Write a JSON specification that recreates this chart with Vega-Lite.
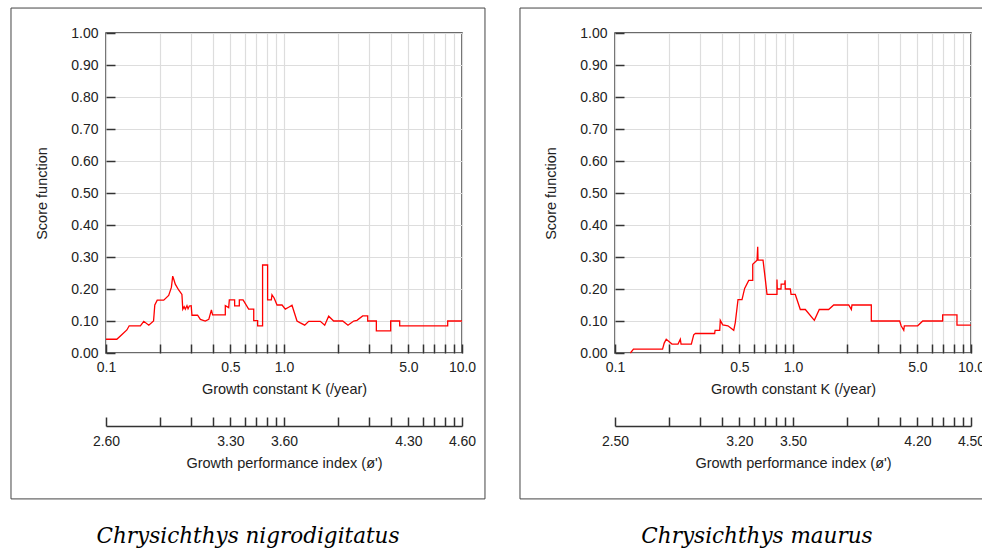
{
  "$schema": "https://vega.github.io/schema/vega-lite/v6.json",
  "background": "white",
  "padding": {"left": 9, "top": 6, "right": 0, "bottom": 0},
  "autosize": {"type": "pad"},
  "datasets": {
    "nig": [
      {"k": 0.1, "s": 0.043}, {"k": 0.115, "s": 0.043}, {"k": 0.123, "s": 0.058}, {"k": 0.131, "s": 0.072},
      {"k": 0.135, "s": 0.085}, {"k": 0.156, "s": 0.085}, {"k": 0.163, "s": 0.099}, {"k": 0.174, "s": 0.087},
      {"k": 0.185, "s": 0.1}, {"k": 0.188, "s": 0.15}, {"k": 0.194, "s": 0.165}, {"k": 0.211, "s": 0.165},
      {"k": 0.225, "s": 0.18}, {"k": 0.233, "s": 0.205}, {"k": 0.237, "s": 0.24}, {"k": 0.241, "s": 0.228},
      {"k": 0.245, "s": 0.215}, {"k": 0.256, "s": 0.197}, {"k": 0.267, "s": 0.183}, {"k": 0.27, "s": 0.137},
      {"k": 0.275, "s": 0.145}, {"k": 0.279, "s": 0.137}, {"k": 0.285, "s": 0.148}, {"k": 0.289, "s": 0.138},
      {"k": 0.294, "s": 0.147}, {"k": 0.301, "s": 0.148}, {"k": 0.304, "s": 0.118}, {"k": 0.327, "s": 0.118},
      {"k": 0.339, "s": 0.105}, {"k": 0.361, "s": 0.1}, {"k": 0.378, "s": 0.105}, {"k": 0.391, "s": 0.135},
      {"k": 0.397, "s": 0.119}, {"k": 0.468, "s": 0.119}, {"k": 0.468, "s": 0.148}, {"k": 0.489, "s": 0.142},
      {"k": 0.493, "s": 0.166}, {"k": 0.528, "s": 0.166}, {"k": 0.528, "s": 0.147}, {"k": 0.561, "s": 0.147},
      {"k": 0.561, "s": 0.166}, {"k": 0.589, "s": 0.166}, {"k": 0.633, "s": 0.137}, {"k": 0.676, "s": 0.137},
      {"k": 0.676, "s": 0.101}, {"k": 0.711, "s": 0.101}, {"k": 0.711, "s": 0.085}, {"k": 0.758, "s": 0.085},
      {"k": 0.758, "s": 0.275}, {"k": 0.809, "s": 0.275}, {"k": 0.809, "s": 0.166}, {"k": 0.849, "s": 0.166},
      {"k": 0.856, "s": 0.182}, {"k": 0.88, "s": 0.172}, {"k": 0.914, "s": 0.15}, {"k": 0.975, "s": 0.15},
      {"k": 1.017, "s": 0.137}, {"k": 1.062, "s": 0.143}, {"k": 1.109, "s": 0.149}, {"k": 1.183, "s": 0.1},
      {"k": 1.235, "s": 0.094}, {"k": 1.307, "s": 0.087}, {"k": 1.376, "s": 0.099}, {"k": 1.6, "s": 0.099},
      {"k": 1.693, "s": 0.087}, {"k": 1.782, "s": 0.115}, {"k": 1.901, "s": 0.1}, {"k": 2.137, "s": 0.1},
      {"k": 2.288, "s": 0.087}, {"k": 2.463, "s": 0.1}, {"k": 2.571, "s": 0.102}, {"k": 2.767, "s": 0.116},
      {"k": 2.953, "s": 0.116}, {"k": 2.953, "s": 0.1}, {"k": 3.302, "s": 0.1}, {"k": 3.302, "s": 0.069},
      {"k": 3.975, "s": 0.069}, {"k": 3.975, "s": 0.1}, {"k": 4.466, "s": 0.1}, {"k": 4.466, "s": 0.085},
      {"k": 8.31, "s": 0.085}, {"k": 8.31, "s": 0.1}, {"k": 10, "s": 0.1}
    ],
    "mau": [
      {"k": 0.122, "s": 0.0}, {"k": 0.127, "s": 0.012}, {"k": 0.185, "s": 0.012}, {"k": 0.189, "s": 0.031},
      {"k": 0.194, "s": 0.043}, {"k": 0.209, "s": 0.028}, {"k": 0.226, "s": 0.028}, {"k": 0.2328, "s": 0.043},
      {"k": 0.235, "s": 0.028}, {"k": 0.2685, "s": 0.028}, {"k": 0.2768, "s": 0.057}, {"k": 0.283, "s": 0.061},
      {"k": 0.363, "s": 0.061}, {"k": 0.365, "s": 0.071}, {"k": 0.3875, "s": 0.071}, {"k": 0.3905, "s": 0.102},
      {"k": 0.403, "s": 0.088}, {"k": 0.431, "s": 0.085}, {"k": 0.4645, "s": 0.071}, {"k": 0.474, "s": 0.095},
      {"k": 0.491, "s": 0.167}, {"k": 0.517, "s": 0.167}, {"k": 0.535, "s": 0.202}, {"k": 0.564, "s": 0.227},
      {"k": 0.594, "s": 0.227}, {"k": 0.594, "s": 0.277}, {"k": 0.628, "s": 0.29}, {"k": 0.6335, "s": 0.332},
      {"k": 0.636, "s": 0.29}, {"k": 0.6786, "s": 0.29}, {"k": 0.699, "s": 0.23}, {"k": 0.7145, "s": 0.183},
      {"k": 0.8128, "s": 0.183}, {"k": 0.8128, "s": 0.23}, {"k": 0.816, "s": 0.2}, {"k": 0.8562, "s": 0.2},
      {"k": 0.858, "s": 0.215}, {"k": 0.898, "s": 0.215}, {"k": 0.903, "s": 0.227}, {"k": 0.905, "s": 0.2},
      {"k": 0.966, "s": 0.2}, {"k": 0.975, "s": 0.183}, {"k": 1.03, "s": 0.183}, {"k": 1.099, "s": 0.136},
      {"k": 1.173, "s": 0.136}, {"k": 1.318, "s": 0.102}, {"k": 1.405, "s": 0.136}, {"k": 1.586, "s": 0.136},
      {"k": 1.693, "s": 0.15}, {"k": 2.056, "s": 0.15}, {"k": 2.127, "s": 0.136}, {"k": 2.144, "s": 0.15},
      {"k": 2.754, "s": 0.15}, {"k": 2.754, "s": 0.1}, {"k": 3.975, "s": 0.1}, {"k": 4.05, "s": 0.085},
      {"k": 4.19, "s": 0.071}, {"k": 4.22, "s": 0.085}, {"k": 5.017, "s": 0.085}, {"k": 5.355, "s": 0.1},
      {"k": 6.93, "s": 0.1}, {"k": 6.93, "s": 0.119}, {"k": 8.34, "s": 0.119}, {"k": 8.34, "s": 0.087},
      {"k": 10, "s": 0.087}
    ]
  },
  "spacing": 153,
  "bounds": "flush",
  "resolve": {"scale": {"x": "independent", "y": "independent"}},
  "hconcat": [
    {
      "width": 356,
      "height": 320,
      "title": {"text": "Chrysichthys nigrodigitatus", "orient": "bottom", "anchor": "middle", "frame": "bounds", "font": "DejaVu Serif", "fontStyle": "italic", "fontWeight": "normal", "fontSize": 21.5, "color": "#000000", "offset": 27, "baseline": "top"},
      "layer": [
        {
          "data": {"values": [{}]},
          "mark": {"type": "rect", "fill": null, "fillOpacity": 0, "stroke": "#444444", "strokeWidth": 1, "clip": false},
          "encoding": {
            "x": {"datum": 0.02926, "type": "quantitative", "scale": {"type": "log", "domain": [0.1, 10]}, "axis": null},
            "x2": {"datum": 13.46},
            "y": {"datum": -0.456, "type": "quantitative", "scale": {"domain": [0, 1]}, "axis": null},
            "y2": {"datum": 1.078}
          }
        },
        {
          "data": {"name": "nig"},
          "mark": {"type": "line", "color": "#ff0000", "strokeWidth": 1.3},
          "encoding": {
            "x": {"field": "k", "type": "quantitative", "scale": {"type": "log", "domain": [0.1, 10]},
              "axis": {"title": "Growth constant K (/year)", "values": [0.1, 0.2, 0.3, 0.4, 0.5, 0.6, 0.7, 0.8, 0.9, 1, 2, 3, 4, 5, 6, 7, 8, 9, 10],
                "labelExpr": "indexof([0.1, 0.5, 1, 5, 10], datum.value) >= 0 ? format(datum.value, '.1f') : ''",
                "grid": true, "domain": false, "tickSize": -9, "tickWidth": 1.5, "labelPadding": 16, "titlePadding": 8, "labelOverlap": false, "labelFlush": false}},
            "y": {"field": "s", "type": "quantitative", "scale": {"domain": [0, 1]},
              "axis": {"title": "Score function", "values": [0, 0.1, 0.2, 0.3, 0.4, 0.5, 0.6, 0.7, 0.8, 0.9, 1], "format": ".2f",
                "grid": true, "domain": false, "tickSize": -9, "tickWidth": 1.5, "labelPadding": 17, "titlePadding": 21, "labelOverlap": false, "labelFlush": false}},
            "order": {"value": null}
          }
        },
        {
          "data": {"name": "nig"},
          "mark": {"type": "line", "strokeOpacity": 0},
          "encoding": {
            "x": {"field": "k", "type": "quantitative", "scale": {"type": "log", "domain": [0.1, 10]},
              "axis": {"orient": "bottom", "offset": 73, "title": "Growth performance index (ø')", "values": [0.1, 0.2, 0.3, 0.4, 0.5, 0.6, 0.7, 0.8, 0.9, 1, 2, 3, 4, 5, 6, 7, 8, 9, 10],
                "labelExpr": "datum.value == 0.1 ? '2.60' : datum.value == 0.5 ? '3.30' : datum.value == 1 ? '3.60' : datum.value == 5 ? '4.30' : datum.value == 10 ? '4.60' : ''",
                "grid": false, "domain": true, "domainWidth": 1.5, "tickSize": -9, "tickWidth": 1.5, "labelPadding": 17, "titlePadding": 8, "labelOverlap": false, "labelFlush": false}},
            "y": {"field": "s", "type": "quantitative", "scale": {"domain": [0, 1]}, "axis": null},
            "order": {"value": null}
          }
        }
      ],
      "resolve": {"axis": {"x": "independent", "y": "independent"}}
    },
    {
      "width": 356,
      "height": 320,
      "title": {"text": "Chrysichthys maurus", "orient": "bottom", "anchor": "middle", "frame": "bounds", "font": "DejaVu Serif", "fontStyle": "italic", "fontWeight": "normal", "fontSize": 21.5, "color": "#000000", "offset": 27, "baseline": "top"},
      "layer": [
        {
          "data": {"values": [{}]},
          "mark": {"type": "rect", "fill": null, "fillOpacity": 0, "stroke": "#444444", "strokeWidth": 1, "clip": false},
          "encoding": {
            "x": {"datum": 0.02926, "type": "quantitative", "scale": {"type": "log", "domain": [0.1, 10]}, "axis": null},
            "x2": {"datum": 13.46},
            "y": {"datum": -0.456, "type": "quantitative", "scale": {"domain": [0, 1]}, "axis": null},
            "y2": {"datum": 1.078}
          }
        },
        {
          "data": {"name": "mau"},
          "mark": {"type": "line", "color": "#ff0000", "strokeWidth": 1.3},
          "encoding": {
            "x": {"field": "k", "type": "quantitative", "scale": {"type": "log", "domain": [0.1, 10]},
              "axis": {"title": "Growth constant K (/year)", "values": [0.1, 0.2, 0.3, 0.4, 0.5, 0.6, 0.7, 0.8, 0.9, 1, 2, 3, 4, 5, 6, 7, 8, 9, 10],
                "labelExpr": "indexof([0.1, 0.5, 1, 5, 10], datum.value) >= 0 ? format(datum.value, '.1f') : ''",
                "grid": true, "domain": false, "tickSize": -9, "tickWidth": 1.5, "labelPadding": 16, "titlePadding": 8, "labelOverlap": false, "labelFlush": false}},
            "y": {"field": "s", "type": "quantitative", "scale": {"domain": [0, 1]},
              "axis": {"title": "Score function", "values": [0, 0.1, 0.2, 0.3, 0.4, 0.5, 0.6, 0.7, 0.8, 0.9, 1], "format": ".2f",
                "grid": true, "domain": false, "tickSize": -9, "tickWidth": 1.5, "labelPadding": 17, "titlePadding": 21, "labelOverlap": false, "labelFlush": false}},
            "order": {"value": null}
          }
        },
        {
          "data": {"name": "mau"},
          "mark": {"type": "line", "strokeOpacity": 0},
          "encoding": {
            "x": {"field": "k", "type": "quantitative", "scale": {"type": "log", "domain": [0.1, 10]},
              "axis": {"orient": "bottom", "offset": 73, "title": "Growth performance index (ø')", "values": [0.1, 0.2, 0.3, 0.4, 0.5, 0.6, 0.7, 0.8, 0.9, 1, 2, 3, 4, 5, 6, 7, 8, 9, 10],
                "labelExpr": "datum.value == 0.1 ? '2.50' : datum.value == 0.5 ? '3.20' : datum.value == 1 ? '3.50' : datum.value == 5 ? '4.20' : datum.value == 10 ? '4.50' : ''",
                "grid": false, "domain": true, "domainWidth": 1.5, "tickSize": -9, "tickWidth": 1.5, "labelPadding": 17, "titlePadding": 8, "labelOverlap": false, "labelFlush": false}},
            "y": {"field": "s", "type": "quantitative", "scale": {"domain": [0, 1]}, "axis": null},
            "order": {"value": null}
          }
        }
      ],
      "resolve": {"axis": {"x": "independent", "y": "independent"}}
    }
  ],
  "config": {
    "view": {"stroke": "#3a3a3a", "strokeWidth": 1.5},
    "axis": {
      "labelFont": "Liberation Sans", "titleFont": "Liberation Sans",
      "labelFontSize": 14, "titleFontSize": 14.5, "titleFontWeight": "normal",
      "labelColor": "#222222", "titleColor": "#222222",
      "tickColor": "#333333", "gridColor": "#dddddd", "gridWidth": 1.2, "domainColor": "#333333"
    }
  }
}
